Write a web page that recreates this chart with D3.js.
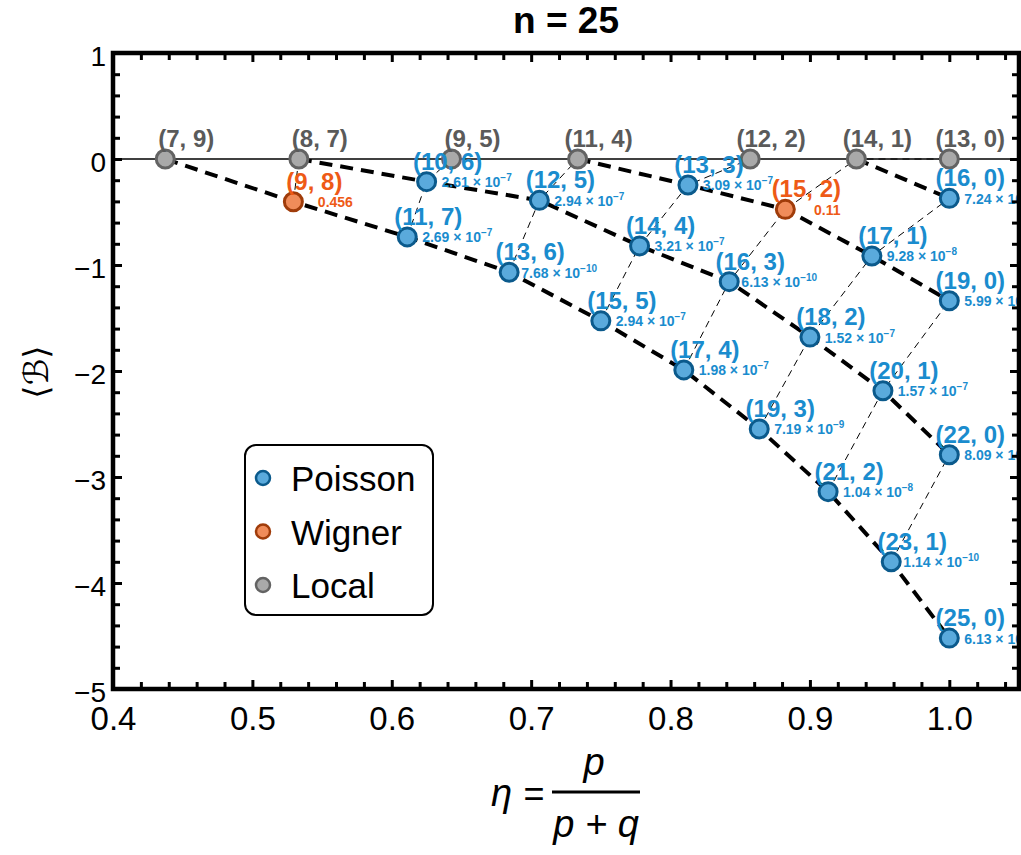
<!DOCTYPE html>
<html><head><meta charset="utf-8">
<script src="https://cdn.jsdelivr.net/npm/d3@7"></script>
<style>
body{margin:0;background:#fff}
svg{display:block;font-family:'Liberation Sans',Arial,sans-serif}
</style>
</head><body>
<svg id="c" width="1021" height="855"></svg>
<script>
// ---------- data ----------
const xTicks = [0.4, 0.5, 0.6, 0.7, 0.8, 0.9, 1.0];
const yTicks = [1, 0, -1, -2, -3, -4, -5];

const localP = [7, 8, 9, 11, 12, 14, 13];
const localQ = [9, 7, 5, 4, 2, 1, 0];
const localB = [0, 0, 0, 0, 0, 0, 0];

const wignerP = [9, 15];
const wignerQ = [8, 2];
const wignerB = [-0.403, -0.475];
const wignerProb = ["0.456", "0.11"];

const poissonP = [10, 11, 12, 13, 13, 14, 15, 16, 16, 17, 17, 18, 19, 19, 20, 21, 22, 23, 25];
const poissonQ = [6, 7, 5, 6, 3, 4, 5, 3, 0, 1, 4, 2, 0, 3, 1, 2, 0, 1, 0];
const poissonB = [-0.214, -0.735, -0.39, -1.068, -0.245, -0.82, -1.527, -1.157, -0.371, -0.915,
                  -1.99, -1.68, -1.337, -2.547, -2.186, -3.138, -2.79, -3.80, -4.52];
const poissonMant = ["2.61", "2.69", "2.94", "7.68", "3.09", "3.21", "2.94", "6.13", "7.24", "9.28",
                     "1.98", "1.52", "5.99", "7.19", "1.57", "1.04", "8.09", "1.14", "6.13"];
const poissonExp = ["−7", "−7", "−7", "−10", "−7", "−7", "−7", "−10", "−7", "−8",
                    "−7", "−7", "−8", "−9", "−7", "−8", "−8", "−10", "−9"];

const legendNames = ["Poisson", "Wigner", "Local"];

// ---------- styles ----------
const style = {
  Poisson: {fill: "#5aaadc", stroke: "#0b5a8c", text: "#1a8cce"},
  Wigner:  {fill: "#f08c5a", stroke: "#a03c0a", text: "#ee5a16"},
  Local:   {fill: "#a9a9a9", stroke: "#636363", text: "#5a5a5a"}
};

const svg = d3.select("#c");
const L = 113, R = 1019, T = 53, B = 689;
const x = d3.scaleLinear().domain([0.4, 1.05]).range([L, R]);
const y = d3.scaleLinear().domain([-5, 1]).range([B, T]);

const pts = [];
localP.forEach((p, i) => pts.push({type: "Local", p, q: localQ[i], b: localB[i]}));
wignerP.forEach((p, i) => pts.push({type: "Wigner", p, q: wignerQ[i], b: wignerB[i], val: wignerProb[i]}));
poissonP.forEach((p, i) => pts.push({type: "Poisson", p, q: poissonQ[i], b: poissonB[i], mant: poissonMant[i], exp: poissonExp[i]}));
pts.forEach(d => d.eta = d.p / (d.p + d.q));

svg.append("defs").append("clipPath").attr("id", "clip")
  .append("rect").attr("x", L).attr("y", T).attr("width", R - L).attr("height", B - T);

const plot = svg.append("g").attr("clip-path", "url(#clip)");

// zero line
plot.append("line").attr("x1", L).attr("x2", R).attr("y1", y(0)).attr("y2", y(0))
  .attr("stroke", "#000").attr("stroke-width", 1.5);

const line = d3.line().x(d => x(d.eta)).y(d => y(d.b));

// thin families: constant p - q
const thin = d3.groups(pts, d => d.p - d.q).map(g => g[1].sort((a, b) => a.eta - b.eta)).filter(g => g.length > 1);
plot.selectAll(".thin").data(thin).join("path").attr("class", "thin")
  .attr("d", line).attr("fill", "none").attr("stroke", "#000").attr("stroke-width", 1)
  .attr("stroke-dasharray", "7,5");

// thick families: constant p + 2q, starting from the last Local point of the family
const thick = d3.groups(pts, d => d.p + 2 * d.q).map(g => {
  const s = g[1].sort((a, b) => a.eta - b.eta);
  let k = 0;
  s.forEach((d, i) => { if (d.type === "Local") k = i; });
  return s.slice(k);
}).filter(g => g.length > 1);
plot.selectAll(".thick").data(thick).join("path").attr("class", "thick")
  .attr("d", line).attr("fill", "none").attr("stroke", "#000").attr("stroke-width", 4)
  .attr("stroke-dasharray", "13,8");

// points
plot.selectAll(".pt").data(pts).join("circle").attr("class", "pt")
  .attr("cx", d => x(d.eta)).attr("cy", d => y(d.b)).attr("r", 9)
  .attr("fill", d => style[d.type].fill).attr("stroke", d => style[d.type].stroke).attr("stroke-width", 3);

// (p, q) labels
plot.selectAll(".pq").data(pts).join("text").attr("class", "pq")
  .attr("x", d => x(d.eta) + 21).attr("y", d => y(d.b) - 12)
  .attr("text-anchor", "middle").attr("font-size", 24).attr("font-weight", "bold")
  .attr("fill", d => style[d.type].text)
  .text(d => `(${d.p}, ${d.q})`);

// value labels
const vals = plot.selectAll(".val").data(pts.filter(d => d.type !== "Local")).join("text").attr("class", "val")
  .attr("x", d => x(d.eta) + (d.type === "Poisson" ? 50 : 42)).attr("y", d => y(d.b) + 5.5)
  .attr("text-anchor", "middle").attr("font-size", 14).attr("font-weight", "bold")
  .attr("fill", d => style[d.type].text);
vals.each(function(d) {
  const t = d3.select(this);
  if (d.type === "Wigner") { t.text(d.val); return; }
  t.append("tspan").text(`${d.mant} × 10`);
  t.append("tspan").attr("dy", -6).attr("font-size", 10).text(d.exp);
});

// ---------- axes / frame ----------
const majorX = xTicks, minorX = d3.range(0.42, 1.05, 0.02).filter(v => !xTicks.some(t => Math.abs(t - v) < 1e-6));
const majorY = yTicks, minorY = d3.range(-4.8, 1.0, 0.2).filter(v => !yTicks.some(t => Math.abs(t - v) < 1e-6));

function styleAxis(g) {
  g.select(".domain").remove();
  g.selectAll(".tick line").attr("stroke", "#000").attr("stroke-width", 3);
}
// bottom
svg.append("g").attr("transform", `translate(0,${B})`)
  .call(d3.axisBottom(x).tickValues(majorX).tickSize(-9).tickPadding(18).tickFormat(d3.format(".1f")))
  .call(styleAxis).call(g => g.selectAll("text").attr("font-size", 33).attr("fill", "#000")
    .attr("font-family", "'Liberation Sans',Arial,sans-serif"));
svg.append("g").attr("transform", `translate(0,${B})`)
  .call(d3.axisBottom(x).tickValues(minorX).tickSize(-7).tickFormat("")).call(styleAxis);
// top
svg.append("g").attr("transform", `translate(0,${T})`)
  .call(d3.axisTop(x).tickValues(majorX).tickSize(-9).tickFormat("")).call(styleAxis);
svg.append("g").attr("transform", `translate(0,${T})`)
  .call(d3.axisTop(x).tickValues(minorX).tickSize(-7).tickFormat("")).call(styleAxis);
// left
svg.append("g").attr("transform", `translate(${L},0)`)
  .call(d3.axisLeft(y).tickValues(majorY).tickSize(-9).tickPadding(7).tickFormat(d3.format("d")))
  .call(styleAxis).call(g => g.selectAll("text").attr("font-size", 28).attr("fill", "#000").attr("dy", "0.45em")
    .attr("font-family", "'Liberation Sans',Arial,sans-serif"));
svg.append("g").attr("transform", `translate(${L},0)`)
  .call(d3.axisLeft(y).tickValues(minorY).tickSize(-7).tickFormat("")).call(styleAxis);
// right
svg.append("g").attr("transform", `translate(${R},0)`)
  .call(d3.axisRight(y).tickValues(majorY).tickSize(-9).tickFormat("")).call(styleAxis);
svg.append("g").attr("transform", `translate(${R},0)`)
  .call(d3.axisRight(y).tickValues(minorY).tickSize(-7).tickFormat("")).call(styleAxis);

svg.append("rect").attr("x", L).attr("y", T).attr("width", R - L).attr("height", B - T)
  .attr("fill", "none").attr("stroke", "#000").attr("stroke-width", 4.5);

// ---------- titles ----------
svg.append("text").attr("x", (L + R) / 2).attr("y", 33).attr("text-anchor", "middle")
  .attr("font-size", 37).attr("font-weight", "bold").text("n = 25");

svg.append("text").attr("transform", "translate(48,372) rotate(-90)").attr("text-anchor", "middle")
  .attr("font-size", 34).attr("font-family", "'DejaVu Sans',sans-serif").text("⟨ℬ⟩");

const xt = svg.append("g");
xt.append("text").attr("x", 491).attr("y", 806).attr("font-size", 38).attr("font-style", "italic").text("η");
xt.append("text").attr("x", 534).attr("y", 806).attr("text-anchor", "middle").attr("font-size", 36).text("=");
xt.append("line").attr("x1", 552).attr("x2", 640).attr("y1", 792).attr("y2", 792).attr("stroke", "#000").attr("stroke-width", 3);
xt.append("text").attr("x", 594).attr("y", 775).attr("text-anchor", "middle").attr("font-size", 38).attr("font-style", "italic").text("p");
xt.append("text").attr("x", 596).attr("y", 837).attr("text-anchor", "middle").attr("font-size", 38).attr("font-style", "italic").text("p + q");

// ---------- legend ----------
const lg = svg.append("g");
lg.append("rect").attr("x", 245).attr("y", 445).attr("width", 188).attr("height", 170).attr("rx", 11)
  .attr("fill", "#fff").attr("stroke", "#000").attr("stroke-width", 2);
const ly = d3.scalePoint().domain(legendNames).range([478, 585]);
lg.selectAll("circle").data(legendNames).join("circle")
  .attr("cx", 263).attr("cy", d => ly(d)).attr("r", 7)
  .attr("fill", d => style[d].fill).attr("stroke", d => style[d].stroke).attr("stroke-width", 2.5);
lg.selectAll("text").data(legendNames).join("text")
  .attr("x", 291).attr("y", d => ly(d) + 13).attr("font-size", 35).text(d => d);
</script>
</body></html>
